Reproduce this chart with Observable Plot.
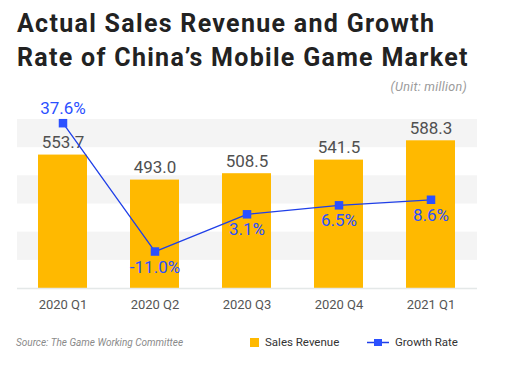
<!DOCTYPE html>
<html>
<head>
<meta charset="utf-8">
<script src="https://cdn.jsdelivr.net/npm/d3@7"></script>
<script src="https://cdn.jsdelivr.net/npm/@observablehq/plot@0.6"></script>
<style>
  body { margin: 0; background: #fff; }
  #wrap { position: relative; width: 512px; height: 365px; overflow: hidden; font-family: Roboto, sans-serif; }
  #title { position: absolute; left: 17px; top: 7px; font-size: 25px; font-weight: 700; line-height: 34px; color: #222; white-space: nowrap; letter-spacing: 1.3px; }
  #unit { position: absolute; right: 45px; top: 79px; font-size: 12.5px; font-style: italic; color: #9a9a9a; letter-spacing: 0.3px; }
  #chart { position: absolute; left: 0; top: 100px; }
  #source { position: absolute; left: 16px; top: 337px; font-size: 10px; font-style: italic; color: #8a8a8a; }
  .leg { position: absolute; top: 335px; font-size: 11.5px; color: #333; display: flex; align-items: center; gap: 6px; }
</style>
</head>
<body>
<div id="wrap">
  <div id="title">Actual Sales Revenue and Growth<br>Rate of China’s Mobile Game Market</div>
  <div id="unit">(Unit: million)</div>
  <div id="chart"></div>
  <div id="source">Source: The Game Working Committee</div>
  <div class="leg" style="left:250px"><svg width="9" height="9"><rect width="9" height="9" fill="#FFB900"/></svg><span>Sales Revenue</span></div>
  <div class="leg" style="left:367px"><svg width="22" height="9"><line x1="0" x2="22" y1="4.5" y2="4.5" stroke="#1f3fe8" stroke-width="1.5"/><rect x="7" y="1" width="8" height="7" fill="#2b50ff"/></svg><span>Growth Rate</span></div>
</div>
<script>
const quarters = ["2020 Q1", "2020 Q2", "2020 Q3", "2020 Q4", "2021 Q1"];
const revenue = [553.7, 493.0, 508.5, 541.5, 588.3];
const growth = [37.6, -11.0, 3.1, 6.5, 8.6];

const yDomain = [230, 640];
const rateToY = d3.scaleLinear().domain([-25, 39]).range(yDomain);
const maxRate = d3.max(growth);

const rows = quarters.map((q, i) => ({
  q, rev: revenue[i], rate: growth[i], ry: rateToY(growth[i]),
  above: growth[i] === maxRate
}));

const nBands = 6;
const bandH = (yDomain[1] - yDomain[0]) / nBands;
const bands = d3.range(nBands).filter(i => i % 2 === 1).map(i => ({y1: yDomain[0] + i * bandH, y2: yDomain[0] + (i + 1) * bandH}));

const blue = "#2b50ff";
const plot = Plot.plot({
  width: 512,
  height: 220,
  marginLeft: 17,
  marginRight: 35,
  marginTop: 19,
  marginBottom: 32,
  style: { fontFamily: "Roboto, sans-serif", background: "transparent", overflow: "visible" },
  x: { domain: quarters, range: [17, 475], paddingInner: 0.47, paddingOuter: 0.2, label: null },
  y: { domain: yDomain, axis: null },
  marks: [
    Plot.rect(bands, { y1: "y1", y2: "y2", fill: "#f4f4f4" }),
    Plot.barY(rows, { x: "q", y1: yDomain[0], y2: "rev", fill: "#FFB900" }),
    Plot.ruleY([yDomain[0]], { stroke: "#e4e8e8", strokeWidth: 1.5 }),
    Plot.text(rows, { x: "q", y: "rev", text: d => d.rev.toFixed(1), dy: -7, lineAnchor: "bottom", fontSize: 17, fill: "#505050" }),
    Plot.line(rows, { x: "q", y: "ry", stroke: "#1f3fe8", strokeWidth: 1.3 }),
    Plot.dot(rows, { x: "q", y: "ry", symbol: "square", r: 4.8, fill: blue, stroke: "none" }),
    Plot.text(rows.filter(d => d.above), { x: "q", y: "ry", text: d => d.rate.toFixed(1) + "%", dy: -9, lineAnchor: "bottom", fontSize: 17, fill: blue }),
    Plot.text(rows.filter(d => !d.above), { x: "q", y: "ry", text: d => d.rate.toFixed(1) + "%", dy: 9, lineAnchor: "top", fontSize: 17, fill: blue }),
    Plot.axisX({ tickSize: 0, tickPadding: 11, fontSize: 13, color: "#555", style: "letter-spacing:0.4px" })
  ]
});
document.getElementById("chart").appendChild(plot);
</script>
</body>
</html>
